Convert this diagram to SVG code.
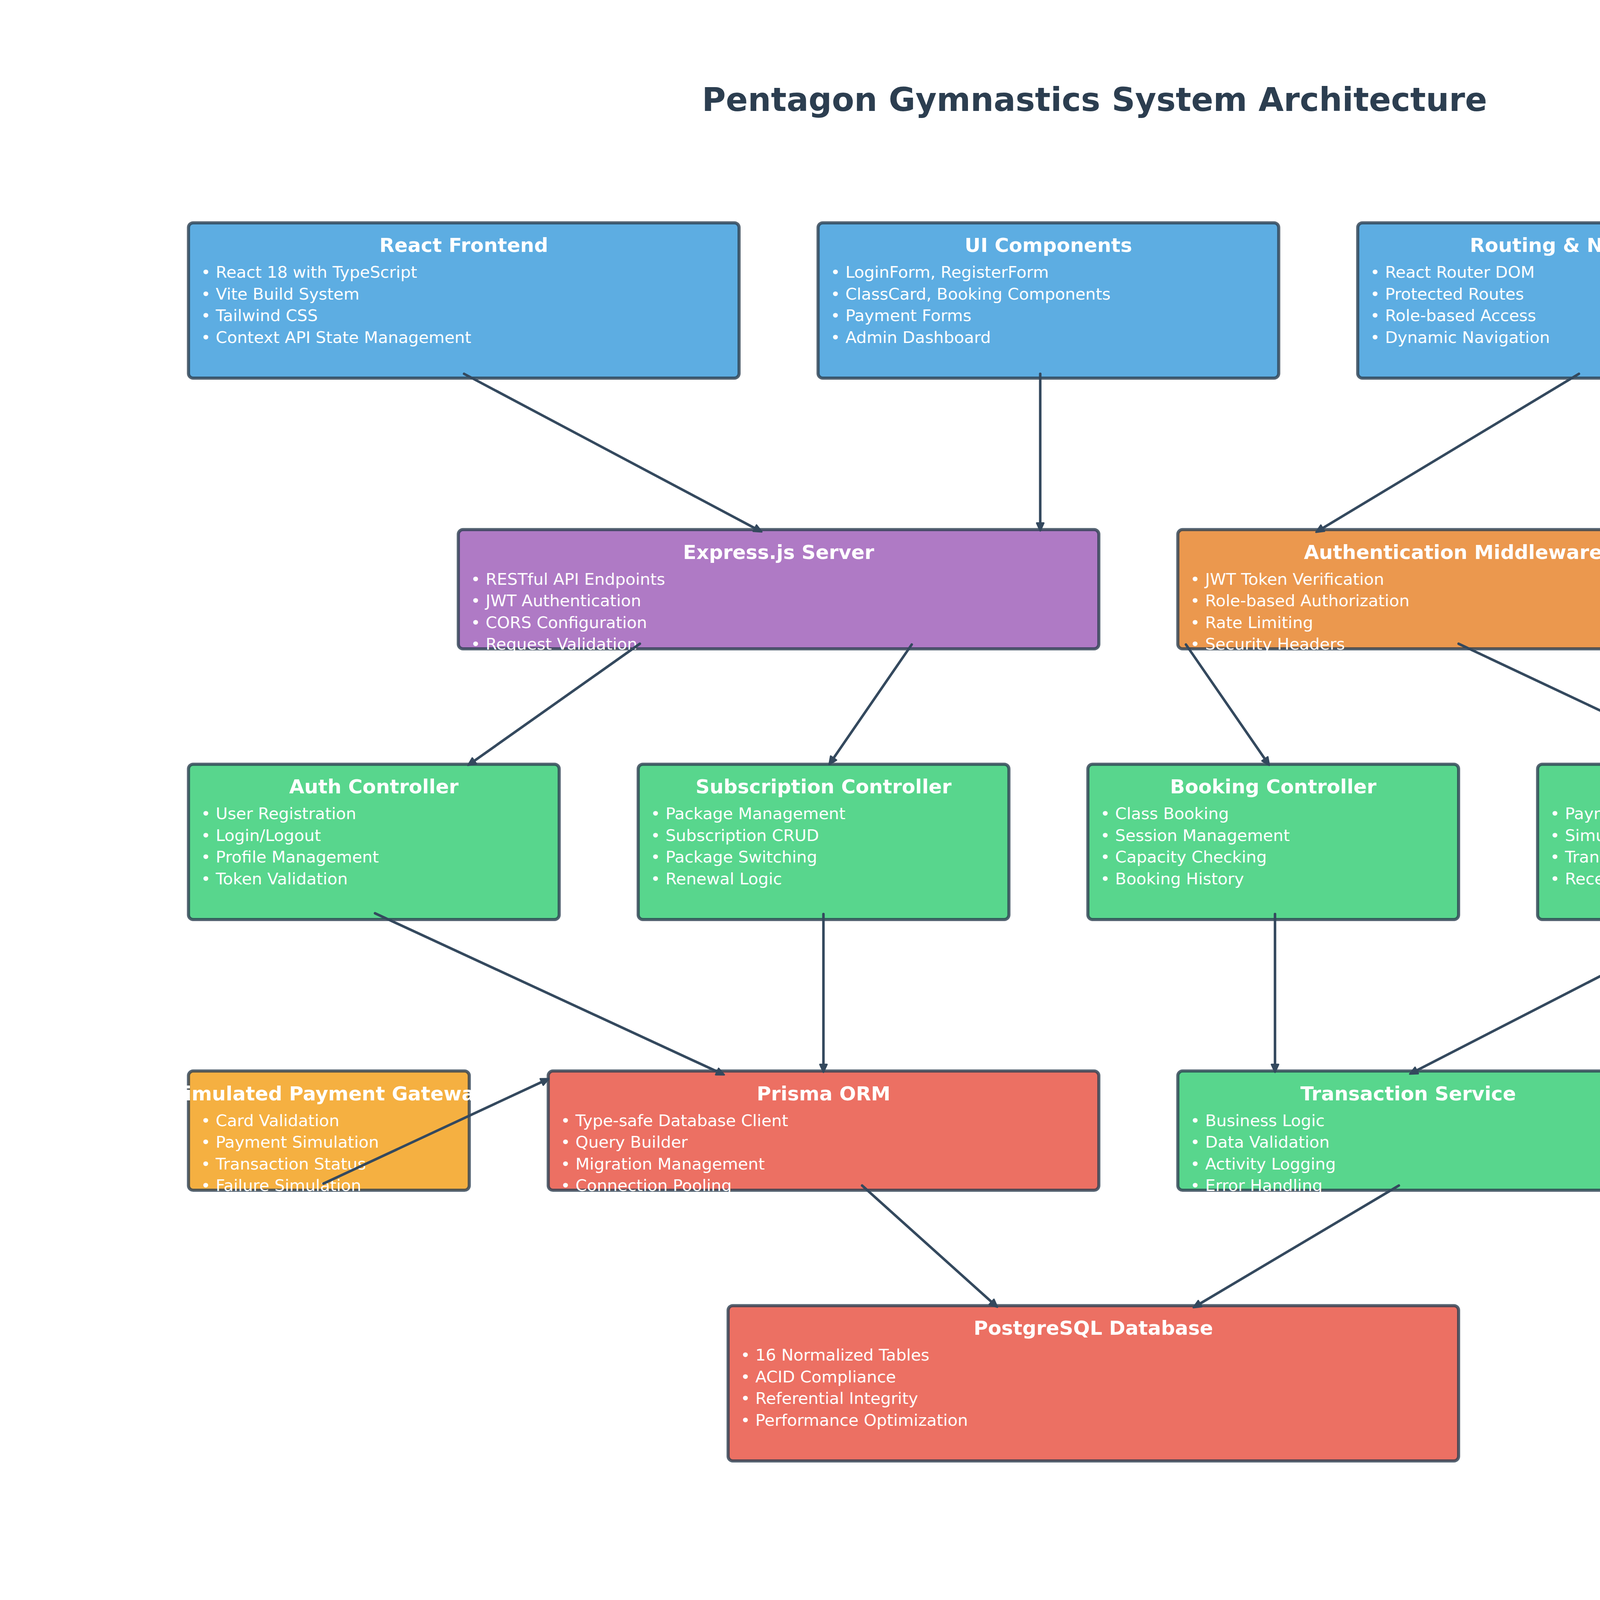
<svg xmlns="http://www.w3.org/2000/svg" width="5604" height="4218" viewBox="0 0 5604 4218">
<style>
.box{stroke:#2c3e50;stroke-opacity:0.8;stroke-width:8}
.blue{fill:#5dade2}.purple{fill:#af7ac5}.orange{fill:#eb984e}.green{fill:#58d68d}.red{fill:#ec7063}.yellow{fill:#f5b041}
.t{font-family:"DejaVu Sans",sans-serif;font-weight:bold;font-size:50px;fill:#ffffff;text-anchor:middle}
.b{font-family:"DejaVu Sans",sans-serif;font-size:41.7px;fill:#ffffff}
.conn{stroke:#34495e;stroke-width:6.5;fill:none;stroke-linecap:round;marker-end:url(#ah)}
.title{font-family:"DejaVu Sans",sans-serif;font-weight:bold;font-size:83.3px;fill:#2c3e50;text-anchor:middle}
.lt{font-family:"DejaVu Sans",sans-serif;font-weight:bold;font-size:50px;fill:#2c3e50;text-anchor:middle}
.li{font-family:"DejaVu Sans",sans-serif;font-size:40px;fill:#2c3e50}
</style>
<defs>
<marker id="ah" markerUnits="userSpaceOnUse" viewBox="-20 -20 40 40" markerWidth="40" markerHeight="40" refX="0" refY="0" orient="auto">
<path d="M-11,-9 L9,0 L-11,9 Z" fill="#34495e" stroke="#34495e" stroke-width="4" stroke-linejoin="round"/>
</marker>
</defs>
<rect x="0" y="0" width="5604" height="4218" fill="#ffffff"/>
<text class="title" x="2802" y="284">Pentagon Gymnastics System Architecture</text>

<g id="react-frontend">
<rect class="box blue" x="482.5" y="570.4" width="1409.5" height="397.6" rx="12"/>
<text class="t" x="1187.3" y="645.4">React Frontend</text>
<text class="b" x="514.5" y="711.4">• React 18 with TypeScript</text>
<text class="b" x="514.5" y="766.9">• Vite Build System</text>
<text class="b" x="514.5" y="822.4">• Tailwind CSS</text>
<text class="b" x="514.5" y="877.9">• Context API State Management</text>
</g>
<g id="ui-components">
<rect class="box blue" x="2094.3" y="570.4" width="1179.2" height="397.6" rx="12"/>
<text class="t" x="2683.9" y="645.4">UI Components</text>
<text class="b" x="2126.3" y="711.4">• LoginForm, RegisterForm</text>
<text class="b" x="2126.3" y="766.9">• ClassCard, Booking Components</text>
<text class="b" x="2126.3" y="822.4">• Payment Forms</text>
<text class="b" x="2126.3" y="877.9">• Admin Dashboard</text>
</g>
<g id="routing-navigation">
<rect class="box blue" x="3475.8" y="570.4" width="1179.2" height="397.6" rx="12"/>
<text class="t" x="4065.4" y="645.4">Routing &amp; Navigation</text>
<text class="b" x="3507.8" y="711.4">• React Router DOM</text>
<text class="b" x="3507.8" y="766.9">• Protected Routes</text>
<text class="b" x="3507.8" y="822.4">• Role-based Access</text>
<text class="b" x="3507.8" y="877.9">• Dynamic Navigation</text>
</g>
<g id="express-server">
<rect class="box purple" x="1173.3" y="1355.8" width="1639.7" height="305.2" rx="12"/>
<text class="t" x="1993.2" y="1430.8">Express.js Server</text>
<text class="b" x="1205.3" y="1496.8">• RESTful API Endpoints</text>
<text class="b" x="1205.3" y="1552.3">• JWT Authentication</text>
<text class="b" x="1205.3" y="1607.8">• CORS Configuration</text>
<text class="b" x="1205.3" y="1663.3">• Request Validation</text>
</g>
<g id="auth-middleware">
<rect class="box orange" x="3015.3" y="1355.8" width="1409.5" height="305.2" rx="12"/>
<text class="t" x="3720" y="1430.8">Authentication Middleware</text>
<text class="b" x="3047.3" y="1496.8">• JWT Token Verification</text>
<text class="b" x="3047.3" y="1552.3">• Role-based Authorization</text>
<text class="b" x="3047.3" y="1607.8">• Rate Limiting</text>
<text class="b" x="3047.3" y="1663.3">• Security Headers</text>
</g>
<g id="auth-controller">
<rect class="box green" x="482.5" y="1956.4" width="949" height="397.6" rx="12"/>
<text class="t" x="957" y="2031.4">Auth Controller</text>
<text class="b" x="514.5" y="2097.4">• User Registration</text>
<text class="b" x="514.5" y="2152.9">• Login/Logout</text>
<text class="b" x="514.5" y="2208.4">• Profile Management</text>
<text class="b" x="514.5" y="2263.9">• Token Validation</text>
</g>
<g id="subscription-controller">
<rect class="box green" x="1633.8" y="1956.4" width="949" height="397.6" rx="12"/>
<text class="t" x="2108.3" y="2031.4">Subscription Controller</text>
<text class="b" x="1665.8" y="2097.4">• Package Management</text>
<text class="b" x="1665.8" y="2152.9">• Subscription CRUD</text>
<text class="b" x="1665.8" y="2208.4">• Package Switching</text>
<text class="b" x="1665.8" y="2263.9">• Renewal Logic</text>
</g>
<g id="booking-controller">
<rect class="box green" x="2785" y="1956.4" width="949" height="397.6" rx="12"/>
<text class="t" x="3259.5" y="2031.4">Booking Controller</text>
<text class="b" x="2817" y="2097.4">• Class Booking</text>
<text class="b" x="2817" y="2152.9">• Session Management</text>
<text class="b" x="2817" y="2208.4">• Capacity Checking</text>
<text class="b" x="2817" y="2263.9">• Booking History</text>
</g>
<g id="payment-controller">
<rect class="box green" x="3936.3" y="1956.4" width="949" height="397.6" rx="12"/>
<text class="t" x="4410.8" y="2031.4">Payment Controller</text>
<text class="b" x="3968.3" y="2097.4">• Payment Processing</text>
<text class="b" x="3968.3" y="2152.9">• Simulated Payments</text>
<text class="b" x="3968.3" y="2208.4">• Transaction Logging</text>
<text class="b" x="3968.3" y="2263.9">• Receipt Generation</text>
</g>
<g id="payment-gateway">
<rect class="box yellow" x="482.5" y="2741.8" width="718.8" height="305.2" rx="12"/>
<text class="t" x="841.9" y="2816.8">Simulated Payment Gateway</text>
<text class="b" x="514.5" y="2882.8">• Card Validation</text>
<text class="b" x="514.5" y="2938.3">• Payment Simulation</text>
<text class="b" x="514.5" y="2993.8">• Transaction Status</text>
<text class="b" x="514.5" y="3049.3">• Failure Simulation</text>
</g>
<g id="prisma-orm">
<rect class="box red" x="1403.5" y="2741.8" width="1409.5" height="305.2" rx="12"/>
<text class="t" x="2108.3" y="2816.8">Prisma ORM</text>
<text class="b" x="1435.5" y="2882.8">• Type-safe Database Client</text>
<text class="b" x="1435.5" y="2938.3">• Query Builder</text>
<text class="b" x="1435.5" y="2993.8">• Migration Management</text>
<text class="b" x="1435.5" y="3049.3">• Connection Pooling</text>
</g>
<g id="transaction-service">
<rect class="box green" x="3015.3" y="2741.8" width="1179.2" height="305.2" rx="12"/>
<text class="t" x="3604.9" y="2816.8">Transaction Service</text>
<text class="b" x="3047.3" y="2882.8">• Business Logic</text>
<text class="b" x="3047.3" y="2938.3">• Data Validation</text>
<text class="b" x="3047.3" y="2993.8">• Activity Logging</text>
<text class="b" x="3047.3" y="3049.3">• Error Handling</text>
</g>
<g id="postgresql-database">
<rect class="box red" x="1864" y="3342.4" width="1870" height="397.6" rx="12"/>
<text class="t" x="2799" y="3417.4">PostgreSQL Database</text>
<text class="b" x="1896" y="3483.4">• 16 Normalized Tables</text>
<text class="b" x="1896" y="3538.9">• ACID Compliance</text>
<text class="b" x="1896" y="3594.4">• Referential Integrity</text>
<text class="b" x="1896" y="3649.9">• Performance Optimization</text>
</g>

<g id="connectors">
<line class="conn" x1="1188" y1="957" x2="1942.2" y2="1357.3"/>
<line class="conn" x1="2663" y1="957" x2="2663" y2="1350"/>
<line class="conn" x1="4042" y1="957" x2="3376.6" y2="1357.8"/>
<line class="conn" x1="1638" y1="1648" x2="1205.2" y2="1954.2"/>
<line class="conn" x1="2334" y1="1650" x2="2127.7" y2="1949.8"/>
<line class="conn" x1="3036" y1="1650" x2="3244.3" y2="1951.8"/>
<line class="conn" x1="3734" y1="1648" x2="4391" y2="1957.7"/>
<line class="conn" x1="960" y1="2338" x2="1845.9" y2="2747.8"/>
<line class="conn" x1="2108" y1="2340" x2="2108" y2="2736"/>
<line class="conn" x1="3264" y1="2340" x2="3264" y2="2736"/>
<line class="conn" x1="4410" y1="2338" x2="3616.9" y2="2745.4"/>
<line class="conn" x1="828" y1="3030" x2="1396.9" y2="2765.2"/>
<line class="conn" x1="2207" y1="3035" x2="2546.6" y2="3340.3"/>
<line class="conn" x1="3581" y1="3035" x2="3062.6" y2="3342.9"/>
</g>

<g id="legend">
<rect x="4860" y="2550" width="693" height="1200" rx="22" fill="#ffffff" stroke="#2c3e50" stroke-width="8"/>
<text class="lt" x="5205" y="2678">Component Types</text>
<text class="li" x="5068" y="2817">Frontend</text>
<text class="li" x="5068" y="2955">Backend</text>
<text class="li" x="5068" y="3093">Database</text>
<text class="li" x="5068" y="3232">External</text>
<text class="li" x="5068" y="3372">Middleware</text>
<text class="li" x="5068" y="3508">Security</text>
</g>
</svg>
